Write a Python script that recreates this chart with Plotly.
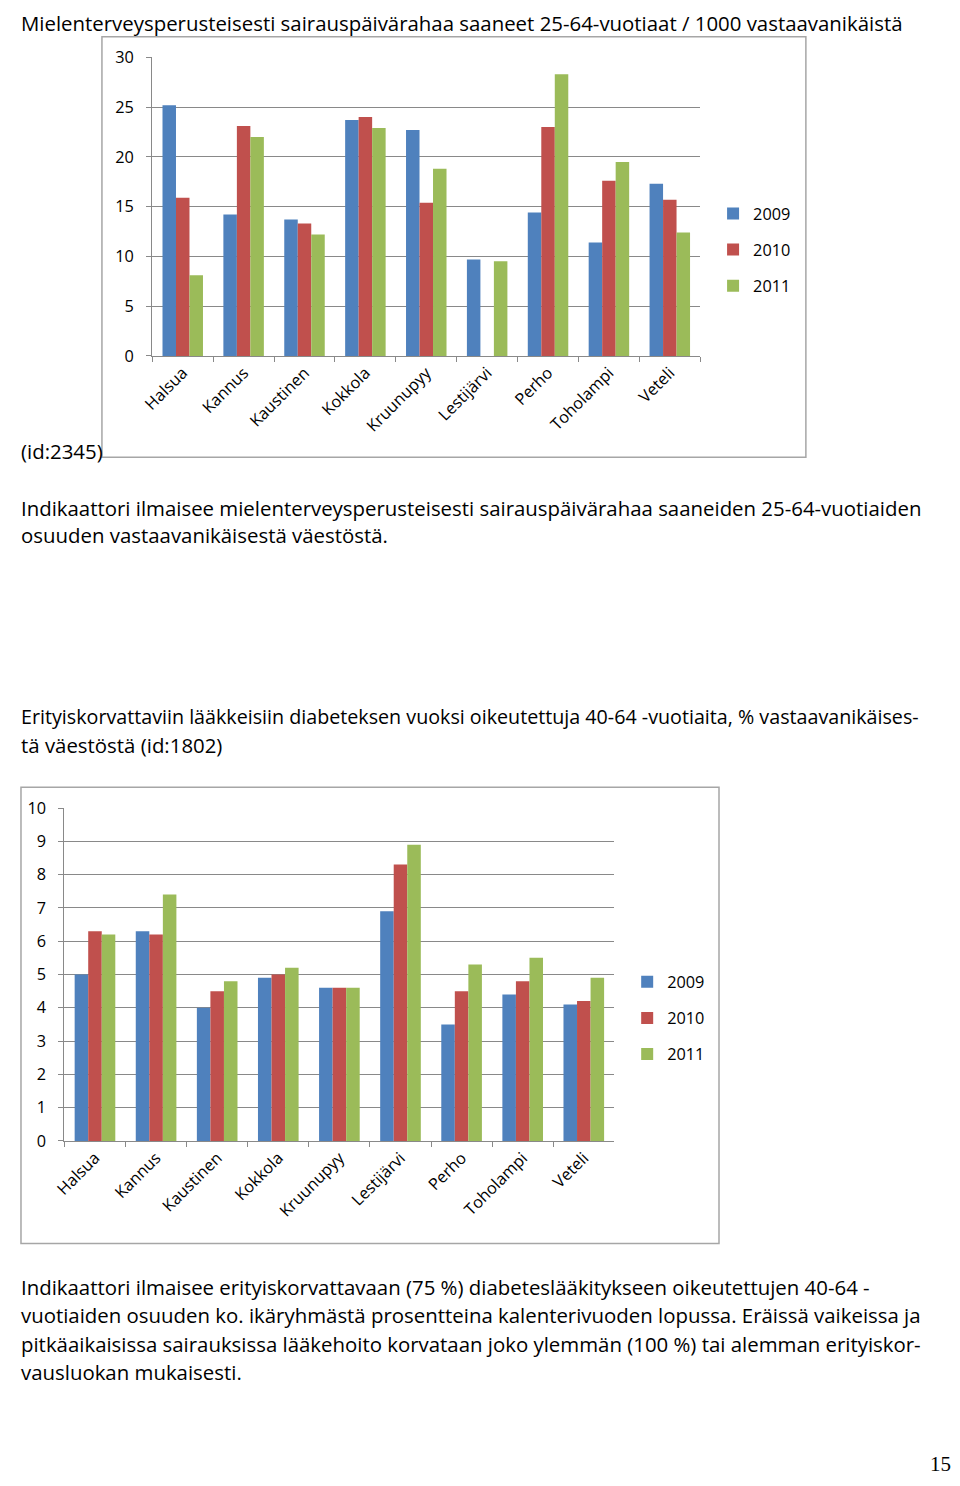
import plotly.graph_objects as go

# figure size chosen so the page (with the browser's 8px body margin) fits the window
W, H = 944, 1470
OX, OY = 8, 8

categories = ["Halsua", "Kannus", "Kaustinen", "Kokkola", "Kruunupyy",
              "Lestijärvi", "Perho", "Toholampi", "Veteli"]
years = ["2009", "2010", "2011"]
colors = ["#4F81BD", "#C0504D", "#9BBB59"]

# Chart 1: sairauspäiväraha / 1000
c1_2009 = [25.2, 14.2, 13.7, 23.7, 22.7, 9.7, 14.4, 11.4, 17.3]
c1_2010 = [15.9, 23.1, 13.3, 24.0, 15.4, None, 23.0, 17.6, 15.7]
c1_2011 = [8.1, 22.0, 12.2, 22.9, 18.8, 9.5, 28.3, 19.5, 12.4]

# Chart 2: diabetes %
c2_2009 = [5.0, 6.3, 4.0, 4.9, 4.6, 6.9, 3.5, 4.4, 4.1]
c2_2010 = [6.3, 6.2, 4.5, 5.0, 4.6, 8.3, 4.5, 4.8, 4.2]
c2_2011 = [6.2, 7.4, 4.8, 5.2, 4.6, 8.9, 5.3, 5.5, 4.9]

FONT = "Open Sans"
TXT = 20.4
TICK = 16.3
GRID = "#898989"


def px_x(p):
    return min(1.0, max(0.0, (p - OX) / W))


def px_y(p):
    return 1 - (p - OY) / H


fig = go.Figure()

for vals, yr, col in zip([c1_2009, c1_2010, c1_2011], years, colors):
    fig.add_trace(go.Bar(x=categories, y=vals, name=yr, marker_color=col,
                         marker_line_width=0, xaxis="x", yaxis="y",
                         legend="legend", legendgroup="a" + yr))
for vals, yr, col in zip([c2_2009, c2_2010, c2_2011], years, colors):
    fig.add_trace(go.Bar(x=categories, y=vals, name=yr, marker_color=col,
                         marker_line_width=0, xaxis="x2", yaxis="y2",
                         legend="legend2", legendgroup="b" + yr))

axis_common = dict(showline=True, linecolor=GRID, linewidth=1.2,
                   ticks="outside", ticklen=5, tickcolor=GRID, tickwidth=1.2,
                   tickfont=dict(family=FONT, size=TICK, color="#000"))

fig.update_layout(
    width=W, height=H,
    margin=dict(l=0, r=0, t=0, b=0),
    paper_bgcolor="white", plot_bgcolor="white",
    barmode="group", bargap=0.335, bargroupgap=0,
    font=dict(family=FONT, color="#000"),
    xaxis=dict(domain=[px_x(142), px_x(697)], anchor="y", type="category",
               tickson="boundaries", tickangle=-45, showgrid=False,
               **axis_common),
    yaxis=dict(domain=[px_y(350), px_y(47)], anchor="x", range=[0, 30],
               dtick=5, showgrid=True, gridcolor=GRID, gridwidth=1.2,
               zeroline=False, ticklabelstandoff=9, **axis_common),
    xaxis2=dict(domain=[px_x(53), px_x(610)], anchor="y2", type="category",
                tickson="boundaries", tickangle=-45, showgrid=False,
                **axis_common),
    yaxis2=dict(domain=[px_y(1147), px_y(809)], anchor="x2", range=[0, 10],
                dtick=1, showgrid=True, gridcolor=GRID, gridwidth=1.2,
                zeroline=False, ticklabelstandoff=9, **axis_common),
    legend=dict(x=px_x(710), y=px_y(188), xanchor="left", yanchor="top",
                font=dict(family=FONT, size=TICK, color="#000"),
                tracegroupgap=12, bgcolor="rgba(0,0,0,0)"),
    legend2=dict(x=px_x(623), y=px_y(968), xanchor="left", yanchor="top",
                 font=dict(family=FONT, size=TICK, color="#000"),
                 tracegroupgap=12, bgcolor="rgba(0,0,0,0)"),
    showlegend=True,
)

# chart frames
for x0, y0, x1, y1 in [(91, 26, 804, 453), (9, 788, 716, 1251)]:
    fig.add_shape(type="rect", xref="paper", yref="paper",
                  x0=px_x(x0), x1=px_x(x1), y0=px_y(y1), y1=px_y(y0),
                  line=dict(color="#A6A6A6", width=1.5), layer="below")

texts = [
    (2, 12, TXT, "Mielenterveysperusteisesti sairauspäivärahaa saaneet 25-64-vuotiaat / 1000 vastaavanikäistä"),
    (2, 447, TXT, "(id:2345)"),
    (2, 504, TXT, "Indikaattori ilmaisee mielenterveysperusteisesti sairauspäivärahaa saaneiden 25-64-vuotiaiden"),
    (2, 532, TXT, "osuuden vastaavanikäisestä väestöstä."),
    (2, 716, 19.7, "Erityiskorvattaviin lääkkeisiin diabeteksen vuoksi oikeutettuja 40-64 -vuotiaita, % vastaavanikäises-"),
    (2, 745, TXT, "tä väestöstä (id:1802)"),
    (2, 1295, TXT, "Indikaattori ilmaisee erityiskorvattavaan (75 %) diabeteslääkitykseen oikeutettujen 40-64 -"),
    (2, 1324, TXT, "vuotiaiden osuuden ko. ikäryhmästä prosentteina kalenterivuoden lopussa. Eräissä vaikeissa ja"),
    (2, 1353, TXT, "pitkäaikaisissa sairauksissa lääkehoito korvataan joko ylemmän (100 %) tai alemman erityiskor-"),
    (2, 1382, TXT, "vausluokan mukaisesti."),
]
for x, y, fs, t in texts:
    fig.add_annotation(x=px_x(x), y=px_y(y), xref="paper", yref="paper",
                       xanchor="left", yanchor="middle", text=t,
                       showarrow=False, borderpad=0,
                       font=dict(family=FONT, size=fs, color="#000"))

fig.add_annotation(x=1.0, y=px_y(1475), xref="paper", yref="paper",
                   xanchor="right", yanchor="middle", text="15",
                   showarrow=False, borderpad=0,
                   font=dict(family="Liberation Serif", size=21, color="#000"))

fig.write_html("out.html")
